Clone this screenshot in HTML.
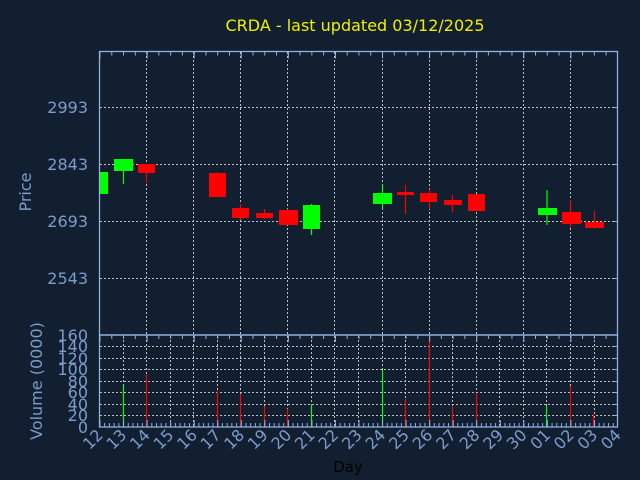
<!DOCTYPE html>
<html><head><meta charset="utf-8"><style>
html,body{margin:0;padding:0;background:#111f30;}
svg{display:block}
text{font-family:"DejaVu Sans","Liberation Sans",sans-serif;}
</style></head><body>
<svg width="640" height="480" viewBox="0 0 640 480" xmlns="http://www.w3.org/2000/svg">
<rect width="640" height="480" fill="#111f30"/>
<text x="355" y="31" fill="#f0f000" font-size="16" text-anchor="middle">CRDA - last updated 03/12/2025</text>
<!-- price grid -->
<g stroke="#c0c0c0" stroke-width="1" stroke-dasharray="2,2">
<line x1="100" y1="107.5" x2="617" y2="107.5"/><line x1="100" y1="164.5" x2="617" y2="164.5"/><line x1="100" y1="221.5" x2="617" y2="221.5"/><line x1="100" y1="278.5" x2="617" y2="278.5"/>
<line x1="146.5" y1="52" x2="146.5" y2="335"/><line x1="193.5" y1="52" x2="193.5" y2="335"/><line x1="240.5" y1="52" x2="240.5" y2="335"/><line x1="287.5" y1="52" x2="287.5" y2="335"/><line x1="334.5" y1="52" x2="334.5" y2="335"/><line x1="382.5" y1="52" x2="382.5" y2="335"/><line x1="429.5" y1="52" x2="429.5" y2="335"/><line x1="476.5" y1="52" x2="476.5" y2="335"/><line x1="523.5" y1="52" x2="523.5" y2="335"/><line x1="570.5" y1="52" x2="570.5" y2="335"/>
<!-- volume grid -->
<line x1="100" y1="415.5" x2="617" y2="415.5"/><line x1="100" y1="404.5" x2="617" y2="404.5"/><line x1="100" y1="392.5" x2="617" y2="392.5"/><line x1="100" y1="381.5" x2="617" y2="381.5"/><line x1="100" y1="369.5" x2="617" y2="369.5"/><line x1="100" y1="358.5" x2="617" y2="358.5"/><line x1="100" y1="346.5" x2="617" y2="346.5"/>
<line x1="123.5" y1="336" x2="123.5" y2="427"/><line x1="146.5" y1="336" x2="146.5" y2="427"/><line x1="170.5" y1="336" x2="170.5" y2="427"/><line x1="193.5" y1="336" x2="193.5" y2="427"/><line x1="217.5" y1="336" x2="217.5" y2="427"/><line x1="240.5" y1="336" x2="240.5" y2="427"/><line x1="264.5" y1="336" x2="264.5" y2="427"/><line x1="287.5" y1="336" x2="287.5" y2="427"/><line x1="311.5" y1="336" x2="311.5" y2="427"/><line x1="334.5" y1="336" x2="334.5" y2="427"/><line x1="358.5" y1="336" x2="358.5" y2="427"/><line x1="382.5" y1="336" x2="382.5" y2="427"/><line x1="405.5" y1="336" x2="405.5" y2="427"/><line x1="429.5" y1="336" x2="429.5" y2="427"/><line x1="452.5" y1="336" x2="452.5" y2="427"/><line x1="476.5" y1="336" x2="476.5" y2="427"/><line x1="499.5" y1="336" x2="499.5" y2="427"/><line x1="523.5" y1="336" x2="523.5" y2="427"/><line x1="546.5" y1="336" x2="546.5" y2="427"/><line x1="570.5" y1="336" x2="570.5" y2="427"/><line x1="594.5" y1="336" x2="594.5" y2="427"/>
</g>
<!-- candles -->
<g>
<rect x="100" y="172" width="8" height="22" fill="#00ff00"/>
<line x1="123.5" y1="170" x2="123.5" y2="184" stroke="#00ff00" stroke-width="1.2"/><rect x="114" y="159" width="19" height="12" fill="#00ff00"/>
<line x1="146.5" y1="170" x2="146.5" y2="183" stroke="#ff0000" stroke-width="1.2"/><rect x="138" y="164" width="17" height="9" fill="#ff0000"/>
<line x1="217.5" y1="172" x2="217.5" y2="197" stroke="#ff0000"/><rect x="209" y="173" width="17" height="24" fill="#ff0000"/>
<line x1="240.5" y1="204" x2="240.5" y2="220" stroke="#ff0000" stroke-width="1.2"/><rect x="232" y="208" width="17" height="10" fill="#ff0000"/>
<line x1="264.5" y1="209" x2="264.5" y2="219" stroke="#ff0000" stroke-width="1.2"/><rect x="256" y="213" width="17" height="5" fill="#ff0000"/>
<line x1="287.5" y1="209" x2="287.5" y2="225" stroke="#ff0000"/><rect x="279" y="210" width="19" height="15" fill="#ff0000"/>
<line x1="311.5" y1="204" x2="311.5" y2="235" stroke="#00ff00" stroke-width="1.2"/><rect x="303" y="205" width="17" height="24" fill="#00ff00"/>
<line x1="382.5" y1="185" x2="382.5" y2="209" stroke="#00ff00" stroke-width="1.2"/><rect x="373" y="193" width="19" height="11" fill="#00ff00"/>
<line x1="405.5" y1="185" x2="405.5" y2="214" stroke="#ff0000" stroke-width="1.2"/><rect x="397" y="192" width="17" height="3" fill="#ff0000"/>
<line x1="429.5" y1="189" x2="429.5" y2="209" stroke="#ff0000" stroke-width="1.2"/><rect x="420" y="193" width="17" height="9" fill="#ff0000"/>
<line x1="452.5" y1="195" x2="452.5" y2="212" stroke="#ff0000" stroke-width="1.2"/><rect x="444" y="200" width="18" height="5" fill="#ff0000"/>
<rect x="468" y="194" width="17" height="17" fill="#ff0000"/>
<line x1="547" y1="190" x2="547" y2="225" stroke="#00ff00" stroke-width="1.2"/><rect x="538" y="208" width="19" height="7" fill="#00ff00"/>
<line x1="570.5" y1="200" x2="570.5" y2="228" stroke="#ff0000" stroke-width="1.2"/><rect x="562" y="212" width="19" height="12" fill="#ff0000"/>
<line x1="594.5" y1="211" x2="594.5" y2="229" stroke="#ff0000" stroke-width="1.2"/><rect x="585" y="222" width="19" height="6" fill="#ff0000"/>
</g>
<!-- volume bars -->
<g stroke-width="1.2">
<line x1="123.5" y1="386" x2="123.5" y2="427" stroke="#00ff00"/>
<line x1="146.5" y1="375" x2="146.5" y2="427" stroke="#ff0000"/>
<line x1="217.5" y1="391" x2="217.5" y2="427" stroke="#ff0000"/>
<line x1="240.5" y1="394" x2="240.5" y2="427" stroke="#ff0000"/>
<line x1="264.5" y1="406" x2="264.5" y2="427" stroke="#ff0000"/>
<line x1="287.5" y1="409" x2="287.5" y2="427" stroke="#ff0000"/>
<line x1="311.5" y1="404" x2="311.5" y2="427" stroke="#00ff00"/>
<line x1="382.5" y1="370" x2="382.5" y2="427" stroke="#00ff00"/>
<line x1="405.5" y1="399" x2="405.5" y2="427" stroke="#ff0000"/>
<line x1="429.5" y1="337" x2="429.5" y2="427" stroke="#ff0000"/>
<line x1="452.5" y1="407" x2="452.5" y2="427" stroke="#ff0000"/>
<line x1="476.5" y1="393" x2="476.5" y2="427" stroke="#ff0000"/>
<line x1="546.5" y1="406" x2="546.5" y2="427" stroke="#00ff00"/>
<line x1="570.5" y1="386" x2="570.5" y2="427" stroke="#ff0000"/>
<line x1="593.5" y1="414" x2="593.5" y2="427" stroke="#ff0000"/>
</g>
<!-- axes frames -->
<g stroke="#8fb0e0" fill="none" stroke-width="1.3">
<rect x="99.5" y="51.5" width="518" height="283.5"/>
<rect x="99.5" y="335" width="518" height="92"/>
</g>
<!-- ticks -->
<g stroke="#8fb0e0" stroke-width="1">
<line x1="99.5" y1="53.5" x2="617.5" y2="53.5" stroke-width="4" stroke-dasharray="1 10.77"/>
<line x1="99.5" y1="55" x2="617.5" y2="55" stroke-width="7" stroke-dasharray="1 46.09"/>
<line x1="99.5" y1="337" x2="617.5" y2="337" stroke-width="4" stroke-dasharray="1 10.77"/>
<line x1="99.5" y1="338.5" x2="617.5" y2="338.5" stroke-width="7" stroke-dasharray="1 46.09"/>
<line x1="99.5" y1="425" x2="617.5" y2="425" stroke-width="4" stroke-dasharray="1 3.709"/>
<line x1="99.5" y1="423.5" x2="617.5" y2="423.5" stroke-width="7" stroke-dasharray="1 22.545"/>
<line x1="614" y1="107.5" x2="617" y2="107.5"/><line x1="614" y1="164.5" x2="617" y2="164.5"/><line x1="614" y1="221.5" x2="617" y2="221.5"/><line x1="614" y1="278.5" x2="617" y2="278.5"/>
<line x1="613" y1="415.5" x2="617" y2="415.5"/><line x1="613" y1="404.5" x2="617" y2="404.5"/><line x1="613" y1="392.5" x2="617" y2="392.5"/><line x1="613" y1="381.5" x2="617" y2="381.5"/><line x1="613" y1="369.5" x2="617" y2="369.5"/><line x1="613" y1="358.5" x2="617" y2="358.5"/><line x1="613" y1="346.5" x2="617" y2="346.5"/>
</g>
<!-- y labels -->
<g fill="#7d9ccb" font-size="16" text-anchor="end">
<text x="88" y="113">2993</text><text x="88" y="170">2843</text><text x="88" y="227">2693</text><text x="88" y="284">2543</text>
<text x="88" y="341">160</text><text x="88" y="352">140</text><text x="88" y="364">120</text><text x="88" y="375">100</text><text x="88" y="387">80</text><text x="88" y="398">60</text><text x="88" y="410">40</text><text x="88" y="421">20</text><text x="88" y="433">0</text>
</g>
<text transform="translate(31,192) rotate(-90)" fill="#7d9ccb" font-size="16" text-anchor="middle">Price</text>
<text transform="translate(42,381) rotate(-90)" fill="#7d9ccb" font-size="16" text-anchor="middle">Volume (0000)</text>
<text x="348" y="472" fill="#000000" font-size="15" text-anchor="middle">Day</text>
<!-- x labels -->
<g fill="#7d9ccb" font-size="16" text-anchor="end">
<text transform="translate(104,436) rotate(-45)">12</text>
<text transform="translate(127.5,436) rotate(-45)">13</text>
<text transform="translate(151,436) rotate(-45)">14</text>
<text transform="translate(174.6,436) rotate(-45)">15</text>
<text transform="translate(198.2,436) rotate(-45)">16</text>
<text transform="translate(221.7,436) rotate(-45)">17</text>
<text transform="translate(245.3,436) rotate(-45)">18</text>
<text transform="translate(268.8,436) rotate(-45)">19</text>
<text transform="translate(292.4,436) rotate(-45)">20</text>
<text transform="translate(315.9,436) rotate(-45)">21</text>
<text transform="translate(339.5,436) rotate(-45)">22</text>
<text transform="translate(363,436) rotate(-45)">23</text>
<text transform="translate(386.5,436) rotate(-45)">24</text>
<text transform="translate(410.1,436) rotate(-45)">25</text>
<text transform="translate(433.6,436) rotate(-45)">26</text>
<text transform="translate(457.2,436) rotate(-45)">27</text>
<text transform="translate(480.7,436) rotate(-45)">28</text>
<text transform="translate(504.3,436) rotate(-45)">29</text>
<text transform="translate(527.8,436) rotate(-45)">30</text>
<text transform="translate(551.4,436) rotate(-45)">01</text>
<text transform="translate(574.9,436) rotate(-45)">02</text>
<text transform="translate(598.5,436) rotate(-45)">03</text>
<text transform="translate(622,436) rotate(-45)">04</text>
</g>
</svg>
</body></html>
